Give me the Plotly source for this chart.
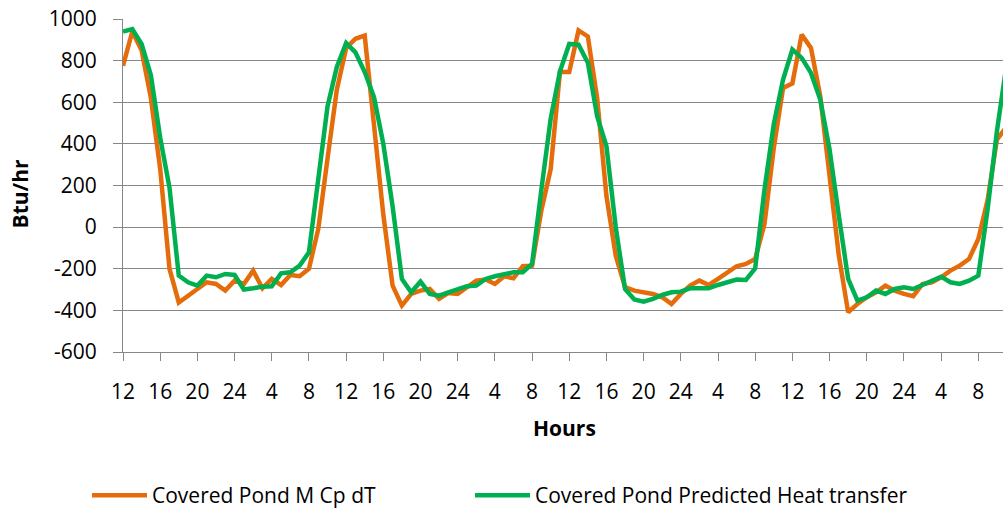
import plotly.graph_objects as go

# Hourly values, starting at hour 12 (4 days)
MCPDT = [
    775, 940, 850, 620, 280, -200, -362, -329, -302, -265, -273, -305,
    -257, -273, -209, -294, -249, -278, -230, -236, -200, -10, 330, 660,
    860, 905, 920, 500, 60, -281, -377, -321, -305, -297, -345, -316,
    -321, -289, -257, -252, -273, -236, -246, -188, -185, 80, 278, 745,
    745, 945, 916, 620, 150, -137, -288, -305, -313, -321, -337, -369,
    -321, -281, -257, -278, -249, -217, -188, -177, -153, 15, 380, 669,
    690, 925, 861, 629, 262, -137, -409, -369, -337, -313, -281, -305,
    -321, -332, -273, -265, -241, -209, -185, -153, -57, 130, 420, 480,
]
PREDICTED = [
    940, 952, 880, 730, 430, 190, -233, -265, -281, -233, -241, -225,
    -230, -300, -294, -286, -284, -222, -217, -185, -121, 250, 580, 770,
    885, 840, 745, 625, 400, 100, -249, -313, -262, -321, -329, -313,
    -297, -284, -281, -249, -236, -225, -217, -217, -177, 180, 520, 749,
    880, 877, 790, 533, 389, 0, -297, -348, -358, -345, -326, -313,
    -310, -294, -292, -294, -278, -265, -252, -254, -198, 180, 495, 709,
    853, 813, 741, 613, 374, 54, -249, -353, -337, -305, -321, -297,
    -289, -297, -278, -262, -238, -265, -273, -257, -233, 86, 460, 770,
]
TICK_LABELS = ["12", "16", "20", "24", "4", "8"] * 4
TICK_STEP = 4
Y_TICKS = [-600, -400, -200, 0, 200, 400, 600, 800, 1000]
Y_TICK_TEXT = ["-600", "-400", "-200", "0", "200", "400", "600", "800", "1000"]

x = list(range(len(MCPDT)))
tickvals = list(range(0, len(TICK_LABELS) * TICK_STEP, TICK_STEP))

FONT = "Open Sans"
GRID = "#878787"

fig = go.Figure()
fig.add_trace(go.Scatter(x=x, y=MCPDT, mode="lines", name="Covered Pond M Cp dT",
                         line=dict(color="#E46C0A", width=4.5), legend="legend"))
fig.add_trace(go.Scatter(x=x, y=PREDICTED, mode="lines", name="Covered Pond Predicted Heat transfer",
                         line=dict(color="#00B050", width=4.5), legend="legend2"))

W, H = 1003, 516
ML, MR, MT, MB = 123, 0, 19, 163
pw = W - ML - MR
ph = H - MT - MB

def px_x(p):
    return (p - ML) / pw

def px_y(p):
    return (H - MB - p) / ph

fig.update_layout(
    width=W, height=H,
    margin=dict(l=ML, r=MR, t=MT, b=MB, pad=0),
    paper_bgcolor="white", plot_bgcolor="white",
    font=dict(family=FONT, size=21, color="black"),
    xaxis=dict(
        range=[0, (W - 122.7) / 9.30],
        tickmode="array", tickvals=tickvals, ticktext=TICK_LABELS,
        ticks="outside", ticklen=8, tickwidth=1, tickcolor=GRID,
        showline=True, linecolor=GRID, linewidth=1,
        showgrid=False, zeroline=False,
        ticklabelstandoff=13,
        tickfont=dict(family=FONT, size=21, color="black"),
    ),
    yaxis=dict(
        range=[-600, 1000], tickmode="array", tickvals=Y_TICKS, ticktext=Y_TICK_TEXT,
        ticks="outside", ticklen=9, tickwidth=1, tickcolor=GRID,
        showline=True, linecolor=GRID, linewidth=1,
        showgrid=True, gridcolor=GRID, gridwidth=1,
        zeroline=False,
        ticklabelstandoff=12,
        tickfont=dict(family=FONT, size=21, color="black"),
    ),
    showlegend=True,
    legend=dict(orientation="h", x=px_x(87), y=px_y(497), xanchor="left", yanchor="middle",
                font=dict(family=FONT, size=21, color="black"), itemwidth=55,
                bgcolor="rgba(0,0,0,0)"),
    legend2=dict(orientation="h", x=px_x(470), y=px_y(497), xanchor="left", yanchor="middle",
                 font=dict(family=FONT, size=21, color="black"), itemwidth=55,
                 bgcolor="rgba(0,0,0,0)"),
    annotations=[
        dict(text="<b>Hours</b>", x=px_x(564), y=px_y(429), xref="paper", yref="paper",
             xanchor="center", yanchor="middle", showarrow=False,
             font=dict(family=FONT, size=21, color="black")),
        dict(text="<b>Btu/hr</b>", x=px_x(20), y=px_y(194), xref="paper", yref="paper",
             xanchor="center", yanchor="middle", showarrow=False, textangle=-90,
             font=dict(family=FONT, size=21, color="black")),
    ],
)

fig.write_html("out.html")
